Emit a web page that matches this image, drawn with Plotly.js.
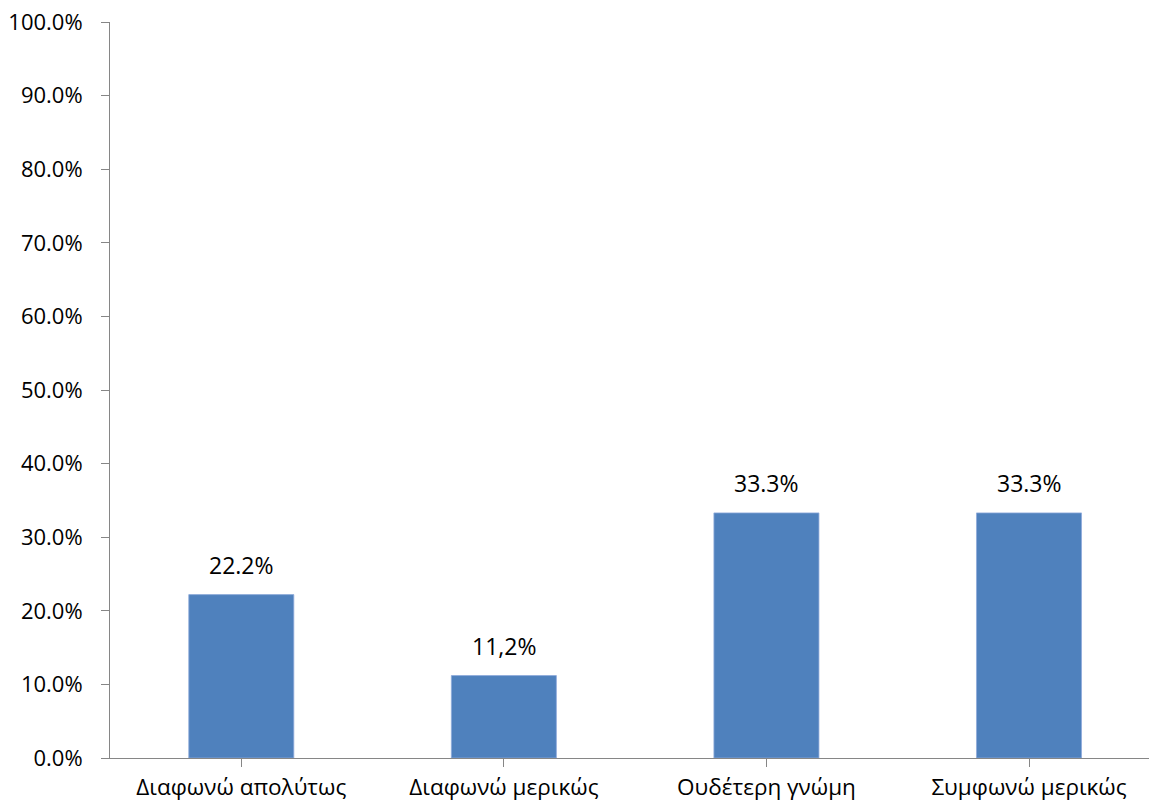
<!DOCTYPE html>
<html>
<head>
<meta charset="utf-8">
<script src="https://cdn.plot.ly/plotly-3.0.1.min.js"></script>
<style>html,body{margin:0;padding:0;background:#fff;}#chart{width:1149px;height:804px;}</style>
</head>
<body>
<div id="chart"></div>
<script>
var categories = ['Διαφωνώ απολύτως', 'Διαφωνώ μερικώς', 'Ουδέτερη γνώμη', 'Συμφωνώ μερικώς'];
var values = [0.222, 0.112, 0.333, 0.333];
var valueLabels = ['22.2%', '11,2%', '33.3%', '33.3%'];

var font = 'Open Sans, Noto Sans, sans-serif';

var trace = {
  type: 'bar',
  x: [0, 1, 2, 3],
  y: values,
  width: 0.4,
  marker: {color: '#4F81BD', line: {color: '#8EAADB', width: 0.8}},
  hoverinfo: 'none'
};

var annotations = values.map(function (v, i) {
  return {
    x: i, y: v, xref: 'x', yref: 'y',
    text: valueLabels[i], showarrow: false,
    yanchor: 'bottom', yshift: 12,
    font: {family: font, size: 23, color: '#000'}
  };
});

var layout = {
  width: 1149, height: 804,
  margin: {l: 109.5, r: 0, t: 22, b: 46},
  paper_bgcolor: '#fff', plot_bgcolor: '#fff',
  showlegend: false,
  font: {family: font, size: 22, color: '#000'},
  xaxis: {
    range: [-0.5, 3.457],
    tickmode: 'array',
    tickvals: [0, 1, 2, 3],
    ticktext: categories,
    tickson: 'boundaries',
    ticks: 'outside', ticklen: 8, tickcolor: '#868686', tickwidth: 1,
    showline: true, linecolor: '#868686', linewidth: 1,
    showgrid: false, zeroline: false,
    ticklabelstandoff: 1,
    tickfont: {family: font, size: 22.5, color: '#000'}
  },
  yaxis: {
    range: [0, 1],
    tickvals: [0, 0.1, 0.2, 0.3, 0.4, 0.5, 0.6, 0.7, 0.8, 0.9, 1.0],
    tickformat: '.1%',
    ticks: 'outside', ticklen: 8, tickcolor: '#868686', tickwidth: 1,
    showline: true, linecolor: '#868686', linewidth: 1,
    showgrid: false, zeroline: false,
    ticklabelstandoff: 14,
    tickfont: {family: font, size: 22, color: '#000'}
  },
  annotations: annotations
};

Plotly.newPlot('chart', [trace], layout, {displayModeBar: false, staticPlot: true});
</script>
</body>
</html>
